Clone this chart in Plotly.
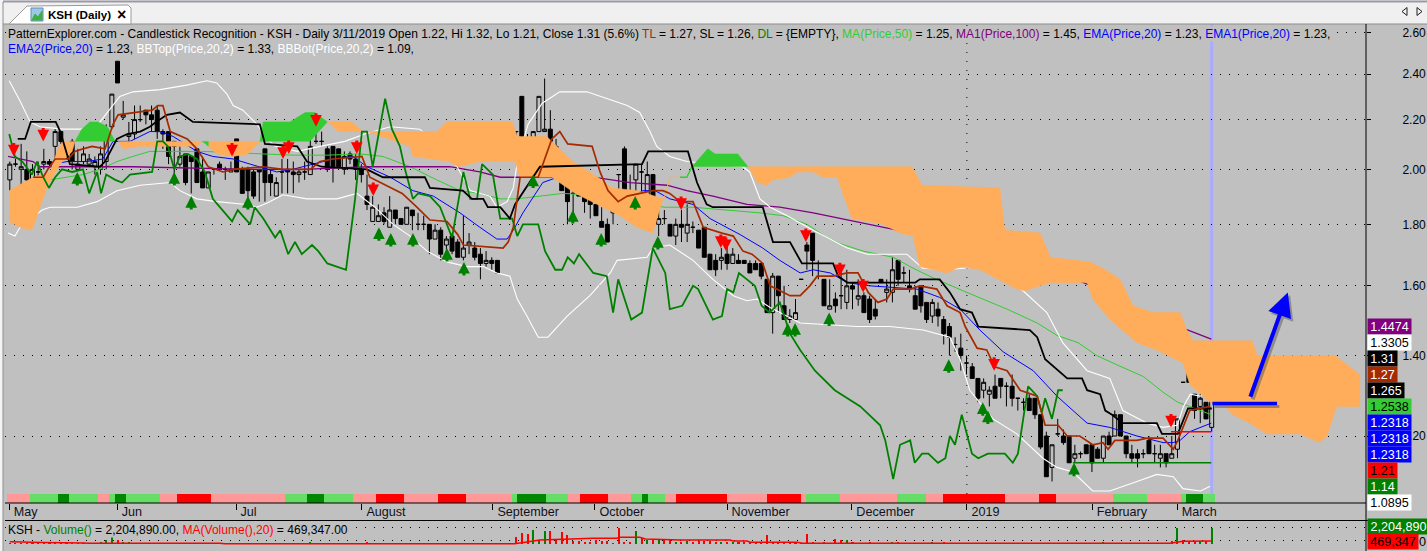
import math
import plotly.graph_objects as go

# ---------------- data ----------------
open_ = [1.96,2.02,2.00,2.00,1.96,1.99,2.02,2.03,2.09,2.15,
2.08,2.11,2.00,2.03,2.02,2.01,2.00,2.03,2.17,2.46,
2.21,2.13,2.14,2.20,2.24,2.22,2.24,2.15,2.15,2.11,
2.02,2.06,2.05,2.08,1.99,1.93,2.00,2.02,2.00,1.99,
2.12,2.00,2.00,1.99,2.00,2.08,1.98,1.90,1.99,2.00,
1.99,1.98,1.99,1.98,2.11,2.11,2.08,2.09,2.08,2.00,
2.06,2.04,2.00,1.90,1.81,1.81,1.84,1.79,1.85,1.82,
1.80,1.85,1.80,1.80,1.80,1.75,1.78,1.73,1.76,1.74,
1.69,1.73,1.72,1.70,1.67,1.68,1.68,None,None,2.15,
2.30,2.06,2.00,2.15,2.15,2.16,2.09,2.05,1.95,1.91,
1.98,1.90,1.90,1.87,1.81,1.80,1.84,1.98,2.08,1.90,
1.96,1.99,1.85,1.98,1.80,1.82,1.80,1.76,1.80,1.77,
1.79,1.78,1.79,1.70,1.68,1.68,1.70,1.67,1.68,1.68,
1.67,1.67,1.67,1.62,1.52,1.63,1.54,1.50,1.50,1.62,
1.73,1.77,1.67,1.62,1.53,1.56,1.57,1.55,1.60,1.56,
1.57,1.56,1.53,1.62,1.58,1.58,1.68,1.64,1.60,1.57,
1.60,1.55,1.51,1.53,1.50,1.48,1.43,1.42,1.38,1.37,
1.34,1.31,1.30,1.32,1.34,1.32,1.32,1.29,1.28,1.29,
1.29,1.25,1.20,1.13,1.205,1.20,1.20,1.15,1.16,1.18,
1.18,1.17,1.15,1.20,1.20,1.25,1.20,1.16,1.16,1.16,
1.19,1.16,1.15,1.16,1.15,1.17,1.33,1.36,1.30,1.27,
1.28,1.22]
high = [2.03,2.04,2.10,2.07,2.02,2.03,2.08,2.04,2.16,2.15,
2.08,2.12,2.08,2.09,2.06,2.05,2.09,2.18,2.31,2.46,
2.28,2.19,2.26,2.26,2.24,2.26,2.26,2.16,2.15,2.11,
2.09,2.06,2.05,2.08,2.05,1.99,2.00,2.03,2.01,2.03,
2.12,2.01,2.01,2.00,2.00,2.08,2.00,1.97,2.04,2.04,
2.03,2.00,2.03,2.13,2.14,2.15,2.09,2.09,2.08,2.07,
2.07,2.06,2.02,1.98,1.90,1.87,1.86,1.90,1.85,1.82,
1.86,1.85,1.84,1.83,1.80,1.80,1.79,1.76,1.77,1.75,
1.83,1.77,1.74,1.72,1.71,1.69,1.68,None,None,2.15,
2.30,2.14,2.15,2.30,2.38,2.24,2.12,2.05,1.95,2.00,
1.98,1.90,1.90,1.87,1.86,1.82,1.86,1.98,2.09,1.98,
2.02,2.02,2.03,1.98,1.87,1.85,1.80,1.82,1.85,1.87,
1.81,1.78,1.79,1.70,1.70,1.72,1.74,1.72,1.70,1.68,
1.68,1.68,1.67,1.62,1.64,1.63,1.60,1.53,1.56,1.62,
1.74,1.77,1.68,1.62,1.62,1.58,1.65,1.65,1.61,1.62,
1.58,1.57,1.56,1.62,1.62,1.69,1.68,1.66,1.65,1.60,
1.60,1.55,1.56,1.55,1.51,1.49,1.45,1.46,1.40,1.38,
1.34,1.34,1.32,1.35,1.34,1.33,1.35,1.29,1.29,1.30,
1.29,1.25,1.21,1.18,1.24,1.215,1.20,1.18,1.165,1.18,
1.18,1.175,1.20,1.21,1.26,1.25,1.20,1.18,1.17,1.17,
1.20,1.18,1.18,1.16,1.20,1.24,1.33,1.41,1.30,1.30,
1.28,1.32]
low = [1.92,2.01,1.91,1.92,1.95,1.96,2.00,2.01,2.01,2.10,
2.04,2.00,2.00,2.02,2.01,1.98,1.98,2.00,2.16,2.36,
2.20,2.09,2.12,2.19,2.18,2.15,2.12,2.08,2.02,1.97,
2.01,1.94,1.91,1.95,1.93,1.93,1.98,2.00,1.96,1.99,
1.99,1.91,1.89,1.89,1.88,1.88,1.90,1.90,1.91,1.91,
1.91,1.95,1.96,1.98,2.10,2.09,1.99,1.95,2.01,1.98,
2.02,1.96,1.95,1.85,1.81,1.81,1.80,1.79,1.80,1.80,
1.80,1.78,1.78,1.78,1.70,1.75,1.68,1.70,1.70,1.69,
1.68,1.70,1.68,1.62,1.66,1.65,1.64,None,None,2.13,
2.13,2.00,2.00,2.15,2.15,2.08,1.99,1.92,1.80,1.84,
1.90,1.84,1.82,1.83,1.79,1.74,1.80,1.89,1.88,1.89,
1.90,1.90,1.85,1.85,1.76,1.80,1.76,1.73,1.74,1.74,
1.77,1.72,1.69,1.65,1.63,1.65,1.65,1.67,1.67,1.67,
1.64,1.65,1.62,1.52,1.46,1.52,1.50,1.49,1.50,1.62,
1.65,1.63,1.62,1.54,1.53,1.52,1.53,1.53,1.53,1.54,
1.52,1.49,1.50,1.61,1.55,1.55,1.60,1.61,1.58,1.53,
1.52,1.49,1.49,1.48,1.43,1.40,1.41,1.36,1.35,1.34,
1.28,1.29,1.27,1.29,1.29,1.27,1.27,1.26,1.26,1.26,
1.24,1.17,1.11,1.10,1.20,1.18,1.14,1.14,1.15,1.16,
1.12,1.15,1.14,1.18,1.20,1.20,1.15,1.14,1.13,1.15,
1.16,1.14,1.13,1.13,1.15,1.15,1.33,1.33,1.24,1.23,
1.24,1.21]
close = [2.02,2.02,2.01,1.96,2.00,1.99,2.03,2.02,2.15,2.11,
2.05,2.03,2.02,2.06,2.04,2.03,2.06,2.16,2.31,2.36,
2.22,2.14,2.20,2.20,2.22,2.20,2.15,2.14,2.05,2.09,
2.05,1.95,2.03,1.95,1.93,1.99,2.00,2.00,2.00,2.00,
1.99,1.91,1.92,1.90,1.99,1.95,1.95,1.95,1.99,1.99,
1.98,1.99,1.99,2.09,2.11,2.11,2.00,2.01,2.01,2.05,
2.04,2.00,1.98,1.87,1.86,1.83,1.81,1.85,1.82,1.80,
1.86,1.83,1.80,1.80,1.75,1.78,1.70,1.75,1.71,1.69,
1.72,1.74,1.69,1.67,1.68,1.67,1.64,None,None,2.15,
2.13,2.01,2.15,2.30,2.16,2.11,2.05,1.92,1.88,1.91,
1.90,1.88,1.87,1.83,1.79,1.74,1.86,1.98,1.88,1.89,
2.02,1.99,1.98,1.85,1.82,1.82,1.76,1.80,1.79,1.80,
1.79,1.72,1.69,1.65,1.65,1.69,1.67,1.70,1.67,1.67,
1.64,1.65,1.63,1.52,1.63,1.57,1.50,1.51,1.52,1.62,
1.71,1.68,1.67,1.54,1.54,1.54,1.57,1.60,1.59,1.57,
1.52,1.50,1.51,1.61,1.59,1.65,1.62,1.64,1.59,1.53,
1.54,1.50,1.55,1.51,1.46,1.45,1.43,1.40,1.38,1.34,
1.29,1.33,1.31,1.29,1.32,1.32,1.29,1.29,1.28,1.26,
1.25,1.175,1.11,1.18,1.205,1.185,1.14,1.16,1.16,1.16,
1.14,1.15,1.20,1.18,1.25,1.20,1.16,1.15,1.15,1.16,
1.16,1.16,1.16,1.14,1.16,1.24,1.33,1.33,1.26,1.29,
1.24,1.31]
volume = [150,120,150,200,120,180,130,150,350,180,
150,200,130,150,120,150,330,550,1000,600,
350,250,220,200,220,200,180,150,220,180,
200,150,180,170,140,130,100,100,90,90,
100,90,80,90,80,90,80,70,70,60,
60,60,50,330,80,70,60,70,60,100,
60,60,80,250,80,70,60,70,80,60,
100,70,60,60,90,70,90,60,80,60,
70,60,60,90,60,60,80,None,None,1050,
1600,1420,1970,600,1800,1800,600,1650,1280,470,
470,330,330,600,470,470,150,2200,330,300,
1800,800,600,700,650,700,700,330,330,400,
330,400,400,400,330,300,330,300,300,280,
300,280,250,1280,280,250,250,220,200,150,
1370,300,200,330,200,700,600,650,250,230,
230,260,220,180,230,280,250,200,180,200,
180,220,280,230,280,220,170,200,200,180,
160,150,180,170,150,150,160,120,120,100,
120,120,130,100,90,90,100,80,70,80,
70,80,250,80,90,80,70,70,70,70,
90,90,100,150,400,2200,550,450,450,450,
450,2205]

vol_ma_x = [0,4,6,13,14,37,38,88,89,90.6,91.7,93.5,102.9,107,107.6,111.1,112.1,118.2,127,127.6,130,130.6,138.8,139.8,204.6,206,207,212]
vol_ma_k = [350,330,250,180,140,140,70,60,60,250,350,590,830,830,960,960,730,590,590,450,450,275,275,140,140,250,420,469]

kijun_x = [1.4,2.7,3.7,4.3,8.1,8.9,10.6,15.9,16.8,18.9,20.7,23,24.7,25.8,27.7,30,32.3,44.1,45,50.7,52.4,55,63,65.8,73.2,74.1,79.9,81.5,83.5,84.3,86.5,88.2,89.1,93.5,111.5,112.6,119.6,121.2,122.9,124,132.8,134.6,137.6,139.7,145.2,146.1,147.7,159.7,160.5,164,165.8,167.6,169.7,170.8,179.9,181.2,182.6,186.5,189.1,190,192.3,193.2,194.4,196.3,202.3,203.2,206,207.8,212]
kijun_y = [2.12,2.12,2.19,2.19,2.19,2.15,2.02,2.01,2.03,2.12,2.14,2.15,2.17,2.19,2.22,2.23,2.19,2.18,2.10,2.09,2.03,2.01,2.00,1.97,1.97,1.93,1.92,1.89,1.89,1.86,1.86,1.82,1.87,2.01,2.02,2.07,2.07,1.95,1.87,1.86,1.86,1.74,1.74,1.67,1.67,1.63,1.61,1.61,1.62,1.62,1.58,1.53,1.52,1.48,1.47,1.45,1.39,1.34,1.34,1.31,1.30,1.26,1.25,1.23,1.23,1.205,1.205,1.265,1.265]

tenkan_x = [4.1,5.9,6.7,8,10.3,11.5,12.9,14.5,16.8,18.2,19.1,25.1,26.1,27,28.3,31.3,33,35,37.6,39.4,44.7,48.2,53,54.7,57,61.2,62.1,63.5,65.3,69.2,71.8,74.1,77.1,79,80,87,87.9,88.8,90,93.2,95.6,97,98.4,102.7,104.1,105.5,107.3,108.9,113.4,115.2,116.4,118.2,120.5,121.7,122.3,125.6,127.6,129.3,130.9,132.8,134.1,137.6,139.4,141.1,142.4,145.2,147.7,149.6,151.4,153.1,154.7,155.8,158.8,160.5,163.5,165.3,167.6,168.5,170.6,172.3,173.7,175.9,178.2,181.2,182.6,184.9,186.5,188.7,191,192.8,193.7,194.9,198.8,200.6,203.4,205.2,206,208.1,211.7]
tenkan_y = [1.97,1.97,2.00,2.04,2.04,2.07,2.08,2.09,2.08,2.18,2.22,2.24,2.26,2.26,2.15,2.12,2.08,2.01,1.99,2.00,2.01,2.00,2.00,2.03,2.04,2.05,2.05,1.97,1.95,1.91,1.86,1.815,1.81,1.765,1.73,1.72,1.74,1.79,1.97,1.97,2.12,2.15,2.10,2.09,1.99,1.92,1.88,1.90,1.92,1.92,1.91,1.88,1.88,1.82,1.79,1.77,1.76,1.71,1.70,1.67,1.60,1.57,1.57,1.60,1.63,1.63,1.64,1.64,1.58,1.55,1.56,1.59,1.59,1.60,1.59,1.54,1.52,1.48,1.42,1.415,1.37,1.36,1.31,1.295,1.225,1.225,1.20,1.20,1.18,1.185,1.17,1.19,1.19,1.195,1.195,1.17,1.19,1.26,1.27]

chikou_x = [-0.1,0.9,2.2,3.2,3.9,4.8,5.9,6.9,8,9.2,11,12.9,14,15.4,16.1,17,18.6,19.8,21.2,25.1,26,27,27.9,29,30,31.4,33,34.4,35.8,39.2,40.2,42.4,43.2,44.7,46.8,47.7,49.1,50.3,51.5,53.3,54.4,56,59.3,60.9,62.1,63,64,66.2,67.4,68.8,69.7,71.1,72,74.1,75.9,78,80,81.2,82.4,83.3,85.2,86.5,88.6,89.5,90.5,93.2,94.4,96.2,97.4,98.4,99.5,100.4,102.9,105.3,106.4,107.3,109.6,111.5,113.4,115.6,116.4,118.6,120.5,121.4,124,125.6,126.5,127.6,128.6,130,131.4,132.6,134,135.8,137.6,139.4,142,145.5,150,153.5,154.4,155.8,157,158.8,159.6,160.9,162,163.7,165,165.8,166.7,167.9,169.7,170.8,172.5,175.5,176.9,177.8,179.6,181.2,182,182.6,183.8,184.9,185.7]
chikou_y = [2.14,2.05,2.03,2.00,1.98,2.03,1.97,1.93,1.97,2.00,1.99,2.00,1.91,1.99,1.91,1.98,1.96,1.95,1.98,1.99,2.11,2.11,2.09,2.00,2.05,2.06,2.04,1.99,1.89,1.81,1.85,1.80,1.86,1.82,1.755,1.78,1.70,1.74,1.70,1.73,1.71,1.67,1.65,1.89,2.15,2.15,2.01,2.29,2.16,2.09,2.00,1.89,1.91,1.90,1.86,1.755,1.99,1.89,1.89,2.02,1.98,1.82,1.82,1.76,1.80,1.80,1.71,1.65,1.65,1.69,1.67,1.70,1.64,1.63,1.52,1.62,1.50,1.52,1.72,1.64,1.53,1.54,1.60,1.59,1.50,1.51,1.59,1.58,1.64,1.62,1.60,1.54,1.52,1.55,1.46,1.415,1.36,1.31,1.27,1.225,1.19,1.105,1.18,1.19,1.14,1.16,1.16,1.14,1.15,1.20,1.18,1.25,1.16,1.15,1.16,1.16,1.14,1.16,1.32,1.295,1.255,1.29,1.24,1.31,1.31]

bb_top_x = [-0.1,1.8,3.6,5.3,9.4,12.7,15.9,18.2,19.4,21.7,26.5,31.2,34.8,36.5,38.3,39.4,41.1,43.6,45.4,46.8,50.7,54.7,59.1,62.6,67.1,72.3,75.9,78.9,81.2,84.7,85.9,87.7,88.8,89.6,91.4,93.9,97,101.8,106.4,108.9,111.1,112.9,114.1,116.4,119.4,129.3,130.5,132.3,134.1,137.1,141.7,144.7,147.7,151.2,158.2,161,165.3,171,177.6,178.7,182.9,185.7,190,194,196.3,200.6,203.4,205.9,207,208.2,210,211.9]
bb_top_y = [2.37,2.28,2.19,2.17,2.16,2.16,2.19,2.26,2.30,2.32,2.33,2.35,2.37,2.36,2.31,2.26,2.24,2.18,2.12,2.09,2.07,2.09,2.11,2.14,2.17,2.16,2.09,2.01,1.92,1.90,1.86,1.88,1.93,2.04,2.18,2.27,2.32,2.32,2.28,2.26,2.23,2.15,2.09,2.05,2.03,2.01,1.99,1.89,1.86,1.83,1.78,1.75,1.72,1.70,1.70,1.655,1.65,1.66,1.60,1.585,1.52,1.435,1.36,1.34,1.26,1.23,1.22,1.225,1.27,1.30,1.295,1.33]

bb_bot_x = [-0.3,0.9,1.8,5.7,7.1,11.9,15.4,18.9,23,28.3,30,33,36.5,41.8,43.6,45.4,48.2,52.4,57.7,61.2,64.4,67.6,70.6,73.6,77.1,80.6,83.5,85.9,88.2,89.5,91.2,93.2,94.9,98.3,102.3,105.9,107.1,112.4,113.4,116.4,120.5,124,127.6,130,131.8,134.1,139.4,144.7,149.4,155.2,161.1,165.8,167.6,169.3,171.6,173.4,177.6,182.2,184.7,187.5,191,194,198.8,202.3,205.2,206.9,210,211.7]
bb_bot_y = [1.77,1.76,1.79,1.85,1.86,1.86,1.88,1.92,1.94,1.95,1.92,1.89,1.88,1.87,1.86,1.875,1.905,1.89,1.89,1.91,1.86,1.80,1.76,1.71,1.675,1.66,1.66,1.64,1.63,1.56,1.51,1.45,1.45,1.51,1.57,1.64,1.68,1.69,1.72,1.73,1.68,1.62,1.57,1.555,1.56,1.535,1.49,1.485,1.48,1.48,1.47,1.45,1.39,1.31,1.27,1.24,1.205,1.15,1.13,1.12,1.08,1.08,1.10,1.115,1.11,1.085,1.08,1.09]

ma50_x = [7.1,12.9,15.9,18.9,21.7,24.7,34,43.6,50,55.9,61.8,65.8,70.6,75.3,79.4,82.9,86.5,89.4,93.5,97.6,104.1,115.4,120.5,132.3,136.4,140.6,144.1,146.4,150.5,155.8,159.3,162.8,168.1,175.9,181.2,184.7,188.4,191.7,195.3,199.9,203.4,206,208.1,211.9]
ma50_y = [1.96,1.98,2.00,2.03,2.05,2.07,2.07,2.06,2.055,2.055,2.06,2.05,2.01,1.96,1.92,1.91,1.89,1.89,1.90,1.91,1.90,1.86,1.86,1.84,1.83,1.80,1.755,1.735,1.71,1.69,1.655,1.625,1.585,1.53,1.49,1.455,1.435,1.40,1.375,1.345,1.305,1.28,1.27,1.25]

ma100_x = [-0.3,4.1,5.3,21.7,42.4,51.7,63.2,77.6,82.9,86.5,90,102.9,109.4,115.9,119.4,124,130,135.8,141.7,147.7,156.5,167.6,174.6,183.5,192.3,201.1,207.8,211.9]
ma100_y = [2.05,2.03,2.01,2.01,2.00,2.00,2.01,2.01,1.99,1.97,1.97,1.97,1.95,1.94,1.92,1.90,1.87,1.86,1.84,1.815,1.78,1.75,1.70,1.65,1.59,1.50,1.47,1.445]

ema_x = [6.6,7.6,10.1,13.6,16.4,18.2,21.2,23,24.7,26.5,28.8,30.9,33,35.8,39.4,42.4,47.1,49.9,57,60.5,63,67.1,71.1,74.7,79.4,82.9,85.9,87.7,88.8,90.5,94,97.9,102.3,108.1,111.7,113.8,116.4,120.5,123.5,128.8,132.8,135.8,139.4,141.7,144.7,147.7,151.7,160,164,167.6,171.1,175.2,180.5,184.7,190,194,198.8,203.4,205.2,206.4,208.1,211.9]
ema_y = [2.00,2.02,2.03,2.03,2.04,2.11,2.11,2.13,2.15,2.15,2.13,2.10,2.07,2.05,2.04,2.02,1.99,2.00,2.04,2.05,2.01,1.97,1.92,1.90,1.84,1.79,1.75,1.75,1.78,1.84,1.95,1.98,1.94,1.89,1.92,1.92,1.89,1.87,1.82,1.765,1.72,1.68,1.64,1.65,1.64,1.61,1.60,1.59,1.565,1.53,1.47,1.41,1.36,1.295,1.23,1.22,1.20,1.185,1.185,1.19,1.21,1.23]

tl_x, tl_y = [204.8, 211.9], [1.21, 1.21]
sl_x, sl_y = [187.5, 211.9], [1.14, 1.14]

# cloud polygons, None separates the pieces
cloud_orange_x = [-0.1,4.1,7.1,8.5,9.4,11.5,11,8.9,6.7,3.9,1.8,-0.1,None,
 19.1,33.5,33.9,33,26.5,23,20,19.4,None,
 35,44.1,42,39.4,36.5,35,None,
 56.1,60.3,62.3,75.3,77.1,88.6,89.5,94.7,99.3,103.7,106.2,110.8,115.2,113.4,110.6,107.6,99.7,95.6,90,89.1,82.9,79,77.6,71.1,70.6,63,57.9,None,
 130.2,159.1,160.9,174.6,175.5,181.7,183.5,190.5,193.2,195.8,198.1,201.6,206.4,207.6,208.7,219.1,220,233.7,238.1,238.1,234,232.3,231,227.5,221.7,218.7,215.7,214.3,211.7,208.1,206.9,202.3,198.8,194,191,190,183.5,179,177.6,171.1,167.6,165.3,160.5,159.3,157,154,148.5,145.9,143.4,141.7,138.9,137.6,134.6,133.5,131.8]
cloud_orange_y = [1.92,1.97,1.99,2.08,2.11,2.11,2.07,2.02,1.94,1.78,1.79,1.81,None,
 2.11,2.11,2.11,2.09,2.09,2.09,2.08,2.10,None,
 2.11,2.11,2.06,2.05,2.06,2.09,None,
 2.19,2.19,2.15,2.15,2.19,2.19,2.13,2.13,2.03,1.97,1.93,1.92,1.89,1.77,1.79,1.83,1.91,1.97,1.97,2.03,2.03,2.01,2.03,2.05,2.09,2.15,2.15,None,
 2.01,2.01,1.94,1.93,1.78,1.77,1.69,1.675,1.65,1.62,1.54,1.52,1.52,1.47,1.44,1.44,1.40,1.40,1.35,1.27,1.27,1.20,1.185,1.205,1.205,1.23,1.25,1.27,1.28,1.325,1.38,1.415,1.435,1.50,1.56,1.61,1.61,1.585,1.59,1.65,1.66,1.64,1.66,1.76,1.77,1.80,1.82,1.97,1.97,1.99,1.99,1.97,1.96,1.94,1.95]
cloud_green_x = [11.5,12.7,14.1,15.6,17.2,18.6,None,
 33.9,35,35,None,
 44.1,44.7,49.4,52.1,53.8,56,52.9,None,
 120.3,123.1,124.4,128.4,130.2]
cloud_green_y = [2.11,2.16,2.19,2.19,2.17,2.11,None,
 2.11,2.11,2.09,None,
 2.11,2.19,2.19,2.23,2.23,2.19,2.11,None,
 2.01,2.08,2.06,2.06,2.01]
sliver_orange_x, sliver_orange_y = [115.4,116.4,118.2], [1.89,1.97,1.97]
sliver_green_x, sliver_green_y = [118.2,119.4,120.3], [1.97,1.97,2.01]

red_arrow_x = [0.7,5.9,39.2,48.2,49.2,54,61.2,64.1,118.4,125.4,126.3,140.4,146.4,150.5,173.6,204.8]
red_arrow_y = [2.05,2.11,2.05,2.04,2.06,2.17,2.06,1.90,1.85,1.72,1.71,1.74,1.63,1.58,1.36,1.22]
green_arrow_x = [11.9,29,32,42,65.1,67.2,71.1,77.1,80.1,92.3,99.3,104.3,110.3,114.3,137.2,138.5,144.5,165.6,171.6,172.5,187.7]
green_arrow_y = [1.99,1.99,1.90,1.90,1.79,1.77,1.77,1.72,1.675,1.98,1.85,1.77,1.90,1.76,1.49,1.49,1.52,1.39,1.28,1.26,1.14]

strip_runs = [4,5,2,5,2,1,2,6,3,6,13,4,3,5,4,5,6,5,8,1,5,4,2,5,4,2,1,3,2,9,7,6,1,6,10,5,3,11,6,3,10,6,6,1,3,2]
strip_kinds = list("PLDLPLDLPRPLDLPRPRPLDLPRPLDLPRPRPLPLPRPRPLPLDL")
strip_palette = {"P": "#FF9999", "L": "#66DD66", "D": "#008800", "R": "#FF0000"}

month_names = ["May","Jun","Jul","August","September","October","November","December","2019","February","March"]
month_pos = [-0.09,18.96,39.9,62.1,85.2,103.2,126.5,148.5,168.8,190.9,205.9]
price_ticks = [1.2,1.4,1.6,1.8,2.0,2.2,2.4,2.6]

label_text = ["1.4474","1.3305","1.31","1.27","1.265","1.2538","1.2318","1.2318","1.2318","1.21","1.14","1.0895","2,204,890","469,347"]
label_bg = ["#800080","#FFFFFF","#000000","#A52A00","#000000","#33CC33","#0000FF","#0000FF","#0000FF","#FF0000","#008000","#FFFFFF","#008000","#FF0000"]
label_fg = ["#FFFFFF","#000000","#FFFFFF","#FFFFFF","#FFFFFF","#000000","#FFFFFF","#FFFFFF","#FFFFFF","#000000","#FFFFFF","#000000","#FFFFFF","#000000"]
label_w = [43,43,29,29,36,43,43,43,43,29,29,43,61,50]
label_cy = [326.7,342.7,358.7,374.7,390.7,406.7,422.7,438.7,454.7,470.7,486.7,502.7,526.7,541.7]

# ---------------- layout frame (pixels of the 1427x551 window) ----------------
W, H = 1427, 551
L, R, T, B = 5, 1366, 24, 551
def px(x): return (x - L) / (R - L)
def py(y): return 1 - (y - T) / (B - T)

BG = "#C0C0C0"
FONT = "Liberation Sans"

n = len(open_)
def bar_pos(i):
    return i if i < 87 else i + 0.3 + 0.0055 * (i - 89)
xpos = [bar_pos(i) for i in range(n)]

fig = go.Figure()

def line(x, y, color, width, name):
    fig.add_trace(go.Scatter(x=x, y=y, mode="lines", name=name, connectgaps=False,
                             line=dict(color=color, width=width), hoverinfo="skip"))

# indicators that the cloud covers
line(ma50_x, ma50_y, "#33CC33", 1, "MA50")
line(ma100_x, ma100_y, "#800080", 1.3, "MA100")
line(ema_x, ema_y, "#0000FF", 1, "EMA")
line(bb_top_x, bb_top_y, "#FFFFFF", 1.1, "BBTop")
line(bb_bot_x, bb_bot_y, "#FFFFFF", 1.1, "BBBot")

# cloud
fig.add_trace(go.Scatter(x=cloud_orange_x, y=cloud_orange_y, mode="lines", fill="toself",
                         fillcolor="#FFAD5B", line=dict(color="#FFAD5B", width=0.5), hoverinfo="skip"))
fig.add_trace(go.Scatter(x=cloud_green_x, y=cloud_green_y, mode="lines", fill="toself",
                         fillcolor="#33CC33", line=dict(color="#33CC33", width=0.5), hoverinfo="skip"))
line(sliver_orange_x, sliver_orange_y, "#FFAD5B", 1, "cloud edge")
line(sliver_green_x, sliver_green_y, "#33CC33", 1.5, "cloud edge")

# candles
fig.add_trace(go.Candlestick(x=xpos, open=open_, high=high, low=low, close=close, whiskerwidth=0,
    increasing=dict(fillcolor=BG, line=dict(color="#000000", width=1)),
    decreasing=dict(fillcolor="#000000", line=dict(color="#000000", width=1)),
    hoverinfo="skip"))

# indicators on top of the candles
line(chikou_x, chikou_y, "#008000", 1.8, "Chikou")
line(kijun_x, kijun_y, "#000000", 1.8, "Kijun")
line(tenkan_x, tenkan_y, "#A52A00", 1.7, "Tenkan")
line(tl_x, tl_y, "#FF0000", 1.5, "TL")
line(sl_x, sl_y, "#008000", 1.5, "SL")

# hand drawn horizontal mark (with shadow)
hand_x, hand_y = [212.1, 223.5], [1.277, 1.277]
hand_shadow_y = [1.270, 1.270]
line([v + 0.4 for v in hand_x], hand_shadow_y, "rgba(90,90,90,0.55)", 3, "shadow")
line(hand_x, hand_y, "#0000FF", 3.5, "mark")

# coloured trend strip
strip_x, strip_c = [], []
for run, kind in zip(strip_runs, strip_kinds):
    for _ in range(run):
        strip_c.append(strip_palette[kind])
strip_x = list(range(len(strip_c)))
fig.add_trace(go.Bar(x=strip_x, y=[1] * len(strip_x), width=1.0, yaxis="y3",
                     marker=dict(color=strip_c, line=dict(width=0)), hoverinfo="skip"))

# volume panel
vol_units = [None if v is None else v * 1000 for v in volume]
vol_col = ["#008000" if (c is not None and o is not None and c > o) else "#FF0000"
           for o, c in zip(open_, close)]
fig.add_trace(go.Bar(x=xpos, y=vol_units, width=0.36, yaxis="y2",
                     marker=dict(color=vol_col, line=dict(width=0)), hoverinfo="skip"))
fig.add_trace(go.Scatter(x=vol_ma_x, y=[v * 1000 for v in vol_ma_k], yaxis="y2", mode="lines",
                         line=dict(color="#FF0000", width=1.5), hoverinfo="skip"))

# ---------------- annotations ----------------
ann = []
def colored(t, c): return f'<span style="color:{c}">{t}</span>'
row1 = ("PatternExplorer.com - Candlestick Recognition - KSH - Daily 3/11/2019 Open 1.22, Hi 1.32, Lo 1.21, Close 1.31 (5.6%) "
        + colored("TL", "#A52A00") + " = 1.27, SL = 1.26, " + colored("DL", "#008000") + " = {EMPTY}, "
        + colored("MA(Price,50)", "#33CC33") + " = 1.25, " + colored("MA1(Price,100)", "#800080") + " = 1.45, "
        + colored("EMA(Price,20)", "#0000FF") + " = 1.23, " + colored("EMA1(Price,20)", "#0000FF") + " = 1.23,")
row2 = (colored("EMA2(Price,20)", "#0000FF") + " = 1.23, " + colored("BBTop(Price,20,2)", "#FFFFFF") + " = 1.33, "
        + colored("BBBot(Price,20,2)", "#FFFFFF") + " = 1.09,")
vol_row = ("KSH - " + colored("Volume()", "#008000") + " = 2,204,890.00, "
           + colored("MA(Volume(),20)", "#FF0000") + " = 469,347.00")
for text, xp, yp, size in [(row1, 7, 34, 12.03), (row2, 7, 48.5, 12), (vol_row, 7, 529.5, 12.05)]:
    ann.append(dict(text=text, xref="paper", yref="paper", x=px(xp), y=py(yp), xanchor="left", yanchor="middle",
                    showarrow=False, align="left", bgcolor=BG, borderpad=0,
                    font=dict(family=FONT, size=size, color="#000000")))

for xs, ys, col, off in [(red_arrow_x, red_arrow_y, "#FF0000", -15), (green_arrow_x, green_arrow_y, "#008000", 15)]:
    for a, b in zip(xs, ys):
        ann.append(dict(text="", xref="x", yref="y", x=a, y=math.log10(b), ax=0, ay=off, showarrow=True,
                        arrowhead=2, arrowsize=0.78, arrowwidth=3, arrowcolor=col, standoff=0, startstandoff=0))

# hand drawn blue arrow with shadow
tip_x, tip_y, tail_x, tail_y = 225.4, 1.58, 218.7, 1.29
ann.append(dict(text="", xref="x", yref="y", axref="x", ayref="y", x=tip_x + 0.4, y=math.log10(tip_y * 0.995),
                ax=tail_x + 0.4, ay=math.log10(tail_y * 0.995), showarrow=True, arrowhead=2, arrowsize=1.2,
                arrowwidth=4, arrowcolor="rgba(90,90,90,0.5)"))
ann.append(dict(text="", xref="x", yref="y", axref="x", ayref="y", x=tip_x, y=math.log10(tip_y),
                ax=tail_x, ay=math.log10(tail_y), showarrow=True, arrowhead=2, arrowsize=1.2,
                arrowwidth=4, arrowcolor="#0000FF"))

for t, bg, fg, w, cy in zip(label_text, label_bg, label_fg, label_w, label_cy):
    ann.append(dict(text=t, xref="paper", yref="paper", x=px(1366.5), y=py(cy), xanchor="left", yanchor="middle",
                    width=w, height=15, bgcolor=bg, borderpad=0, showarrow=False, align="center",
                    font=dict(family=FONT, size=12.6, color=fg)))
ann.append(dict(text="0", xref="paper", yref="paper", x=px(1417), y=py(542), xanchor="left", yanchor="middle",
                showarrow=False, font=dict(family=FONT, size=12.6, color="#000000")))

# window furniture
ann.append(dict(text="<b>KSH (Daily)</b>", xref="paper", yref="paper", x=px(46), y=py(15), xanchor="left",
                yanchor="middle", showarrow=False, font=dict(family=FONT, size=11.6, color="#000000")))
ann.append(dict(text="<b>×</b>", xref="paper", yref="paper", x=px(121), y=py(14.5), xanchor="center",
                yanchor="middle", showarrow=False, font=dict(family=FONT, size=16, color="#000000")))

shapes = []
def rect(x0, y0, x1, y1, fill, line_col=None, layer="above", w=1):
    shapes.append(dict(type="rect", xref="paper", yref="paper", x0=px(x0), x1=px(x1), y0=py(y0), y1=py(y1),
                       fillcolor=fill, layer=layer, line=dict(color=line_col or fill, width=w if line_col else 0)))
def seg(x0, y0, x1, y1, col="#000000", w=1, dash=None, layer="above"):
    shapes.append(dict(type="line", xref="paper", yref="paper", x0=px(x0), x1=px(x1), y0=py(y0), y1=py(y1),
                       layer=layer, line=dict(color=col, width=w, dash=dash or "solid")))
def poly(points, fill, col):
    d = "M" + " L".join(f"{px(a)},{py(b)}" for a, b in points) + " Z"
    shapes.append(dict(type="path", xref="paper", yref="paper", path=d, fillcolor=fill, layer="above",
                       line=dict(color=col, width=1)))

# lavender cursor and the year gridline sit under the traces
shapes.append(dict(type="line", xref="x", yref="paper", x0=xpos[-1], x1=xpos[-1], y0=py(503), y1=py(T),
                   layer="below", line=dict(color="#AAAAFF", width=3)))
shapes.append(dict(type="line", xref="x", yref="paper", x0=month_pos[8], x1=month_pos[8], y0=py(503), y1=py(T),
                   layer="below", line=dict(color="#000000", width=1, dash="1px,8px")))

rect(0, 0, 1427, 24, "#F0F0F0")
seg(0, 1.5, 1427, 1.5, "#9A9AA5", 2)
seg(3, 24, 1427, 24, "#8E8E8E", 1)
rect(0, 0, 3, 551, "#F4F4F4")
seg(3, 2, 3, 551, "#8E8E8E", 1)
poly([(9, 24), (27, 6), (128, 5), (131, 8), (131, 24)], "#FFFFFF", "#9A9A9A")
rect(31, 8, 43, 21, "#9CC8E8", "#5A8DB8")
poly([(32, 20), (35, 14), (38, 17), (42, 11), (42, 20)], "#3FAF3F", "#3FAF3F")
poly([(1402, 11.5), (1407, 7.5), (1407, 15.5)], "#F0F0F0", "#202020")
poly([(1422, 11.5), (1417, 7.5), (1417, 15.5)], "#F0F0F0", "#202020")

seg(5, 503, 1366, 503)
seg(5, 520.5, 1427, 520.5)
seg(1366, 24, 1366, 551)

fig.update_layout(
    width=W, height=H, showlegend=False, barmode="overlay", bargap=0, boxgap=0.3, boxgroupgap=0,
    margin=dict(l=L, r=W - R, t=T, b=H - B, pad=0),
    paper_bgcolor=BG, plot_bgcolor=BG,
    font=dict(family=FONT, size=12, color="#000000"),
    annotations=ann, shapes=shapes,
    xaxis=dict(range=[(L - 9.8) / 5.67, (R - 9.8) / 5.67], anchor="y", rangeslider=dict(visible=False),
               tickmode="array", tickvals=month_pos, ticktext=month_names, ticks="outside", ticklen=6,
               tickcolor="#000000", ticklabelposition="outside right", ticklabelshift=4, ticklabelstandoff=-3,
               showgrid=False, zeroline=False,
               tickfont=dict(family=FONT, size=12.6, color="#101020"), showline=False),
    yaxis=dict(type="log", range=[math.log10(1.0555), math.log10(2.642)], domain=[py(503), 1], side="right",
               anchor="x", tickmode="array", tickvals=price_ticks, ticktext=[f"{v:.2f}" for v in price_ticks],
               ticks="outside", ticklen=4, tickcolor="#000000", ticklabelstandoff=29,
               showgrid=True, gridcolor="#000000", gridwidth=1, griddash="1px,8px", zeroline=False, showline=False,
               tickfont=dict(family=FONT, size=12, color="#000000")),
    yaxis2=dict(range=[-923000, 3210000], domain=[0, py(521)], side="right", anchor="x", showticklabels=False,
                tickmode="array", tickvals=[590000, 2250000], ticks="", showgrid=True, gridcolor="#000000",
                griddash="1px,8px", gridwidth=1, zeroline=False, showline=False),
    yaxis3=dict(range=[0, 1], domain=[py(503), py(494)], anchor="x", side="right", showticklabels=False,
                ticks="", showgrid=False, zeroline=False, showline=False),
)

fig.write_html("out.html", config={"displayModeBar": False, "staticPlot": True},
               post_script="document.body.style.margin='0';document.body.style.overflow='hidden';")
